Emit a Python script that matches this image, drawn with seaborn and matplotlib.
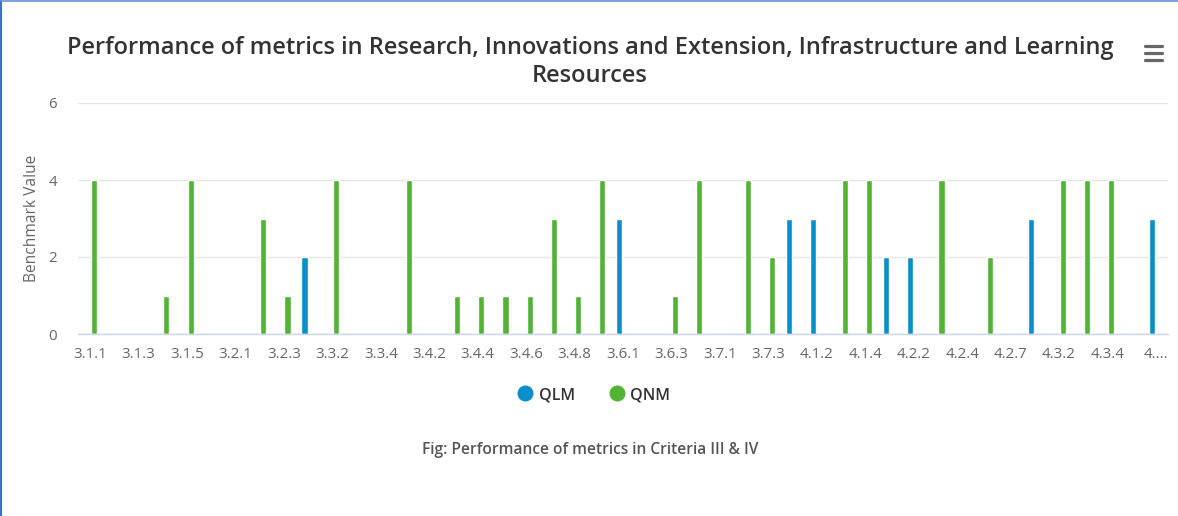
import numpy as np
import pandas as pd
import matplotlib
matplotlib.use("Agg")
import matplotlib.pyplot as plt
from matplotlib.lines import Line2D
import seaborn as sns

# ---------------- data ----------------
categories = [
    "3.1.1", "3.1.2", "3.1.3", "3.1.4", "3.1.5", "3.1.6", "3.2.1", "3.2.2", "3.2.3",
    "3.3.1", "3.3.2", "3.3.3", "3.3.4", "3.4.1", "3.4.2", "3.4.3", "3.4.4", "3.4.5",
    "3.4.6", "3.4.7", "3.4.8", "3.5.1", "3.6.1", "3.6.2", "3.6.3", "3.6.4", "3.7.1",
    "3.7.2", "3.7.3", "4.1.1", "4.1.2", "4.1.3", "4.1.4", "4.2.1", "4.2.2", "4.2.3",
    "4.2.4", "4.2.5", "4.2.7", "4.3.1", "4.3.2", "4.3.3", "4.3.4", "4.3.5", "4.4.1",
]
N = None
qlm_values = [
    N, N, N, N, N, N, N, N, N,
    2, N, N, N, N, N, N, N, N,
    N, N, N, N, 3, N, N, N, N,
    N, N, 3, 3, N, N, 2, 2, N,
    N, N, N, 3, N, N, N, N, 3,
]
qnm_values = [
    4, N, N, 1, 4, N, N, 3, 1,
    N, 4, N, N, 4, N, 1, 1, 1,
    1, 3, 1, 4, N, N, 1, 4, N,
    4, 2, N, N, 4, 4, N, N, 4,
    N, 2, N, N, 4, 4, 4, N, N,
]
series_names = ["QLM", "QNM"]
series_colors = ["#0a8fca", "#52b334"]
y_ticks = [0, 2, 4, 6]

title_text = "Performance of metrics in Research, Innovations and Extension, Infrastructure and Learning\nResources"
y_label = "Benchmark Value"
caption = "Fig: Performance of metrics in Criteria III & IV"

# ---------------- frame ----------------
rows = []
for name, vals in zip(series_names, [qlm_values, qnm_values]):
    for c, v in zip(categories, vals):
        rows.append({"category": c, "series": name,
                     "value": np.nan if v is None else float(v)})
df = pd.DataFrame(rows)

sns.set_theme(style="white")
FONT = ["Open Sans", "DejaVu Sans"]
plt.rcParams["font.family"] = FONT

W, H = 1178, 516
fig = plt.figure(figsize=(W / 100, H / 100), dpi=100)
ax = fig.add_axes([78 / W, 1 - 334 / H, (1168 - 78) / W, (334 - 103) / H])

sns.barplot(data=df, x="category", y="value", hue="series", order=categories,
            hue_order=series_names, palette=series_colors, width=0.6, gap=0.15,
            errorbar=None, saturation=1, legend=False, ax=ax)

ax.set_xlim(-0.5, len(categories) - 0.5)
ax.set_ylim(0, 6)
ax.set_yticks(y_ticks)
ax.set_yticklabels([str(t) for t in y_ticks], color="#666666", fontsize=10.8)
ax.tick_params(axis="y", length=0, pad=15)
ax.yaxis.grid(True, color="#e6e6e6", linewidth=1)
ax.set_axisbelow(True)

shown = list(range(0, len(categories), 2))
ax.set_xticks(shown)
labels = []
for i in shown:
    lab = categories[i]
    if i == len(categories) - 1:
        lab = lab[:1] + "...."
    labels.append(lab)
ax.set_xticklabels(labels, color="#666666", fontsize=10.8)
ax.tick_params(axis="x", length=7, width=1, color="#ccd6eb", pad=2, direction="out")

for s in ["top", "right", "left"]:
    ax.spines[s].set_visible(False)
ax.spines["bottom"].set_color("#ccd6eb")
ax.spines["bottom"].set_linewidth(1)

ax.set_xlabel("")
ax.set_ylabel(y_label, color="#666666", fontsize=11.2)
ax.yaxis.set_label_coords(-38 / 1090, 0.5)

fig.text(590 / W, 1 - 62 / H, title_text, ha="center", va="center",
         fontsize=17, color="#333333", linespacing=1.27, fontweight="semibold")

# legend
handles = [Line2D([0], [0], marker="o", linestyle="", markersize=10.5,
                  markerfacecolor=c, markeredgecolor=c) for c in series_colors]
leg = fig.legend(handles, series_names, loc="center", ncol=2,
                 bbox_to_anchor=(593 / W, 1 - 395 / H), frameon=False,
                 handletextpad=0.25, columnspacing=2.0, handlelength=1.2,
                 prop={"family": FONT, "size": 11.5, "weight": "semibold"})
for t in leg.get_texts():
    t.set_color("#333333")

fig.text(590 / W, 1 - 450 / H, caption, ha="center", va="center",
         fontsize=11.2, color="#555555", fontweight="semibold")

# menu icon
for yy in [46, 53, 60]:
    fig.add_artist(Line2D([1145 / W, 1162 / W], [1 - yy / H, 1 - yy / H],
                          color="#666666", linewidth=2.3, solid_capstyle="round"))

# border (left and top)
fig.add_artist(Line2D([1 / W, 1 / W], [0, 1], color="#3b6fd0", linewidth=1.5))
fig.add_artist(Line2D([0, 1], [1 - 0.7 / H, 1 - 0.7 / H], color="#6a8fd8", linewidth=1.2))

fig.savefig("out.png", dpi=100)
